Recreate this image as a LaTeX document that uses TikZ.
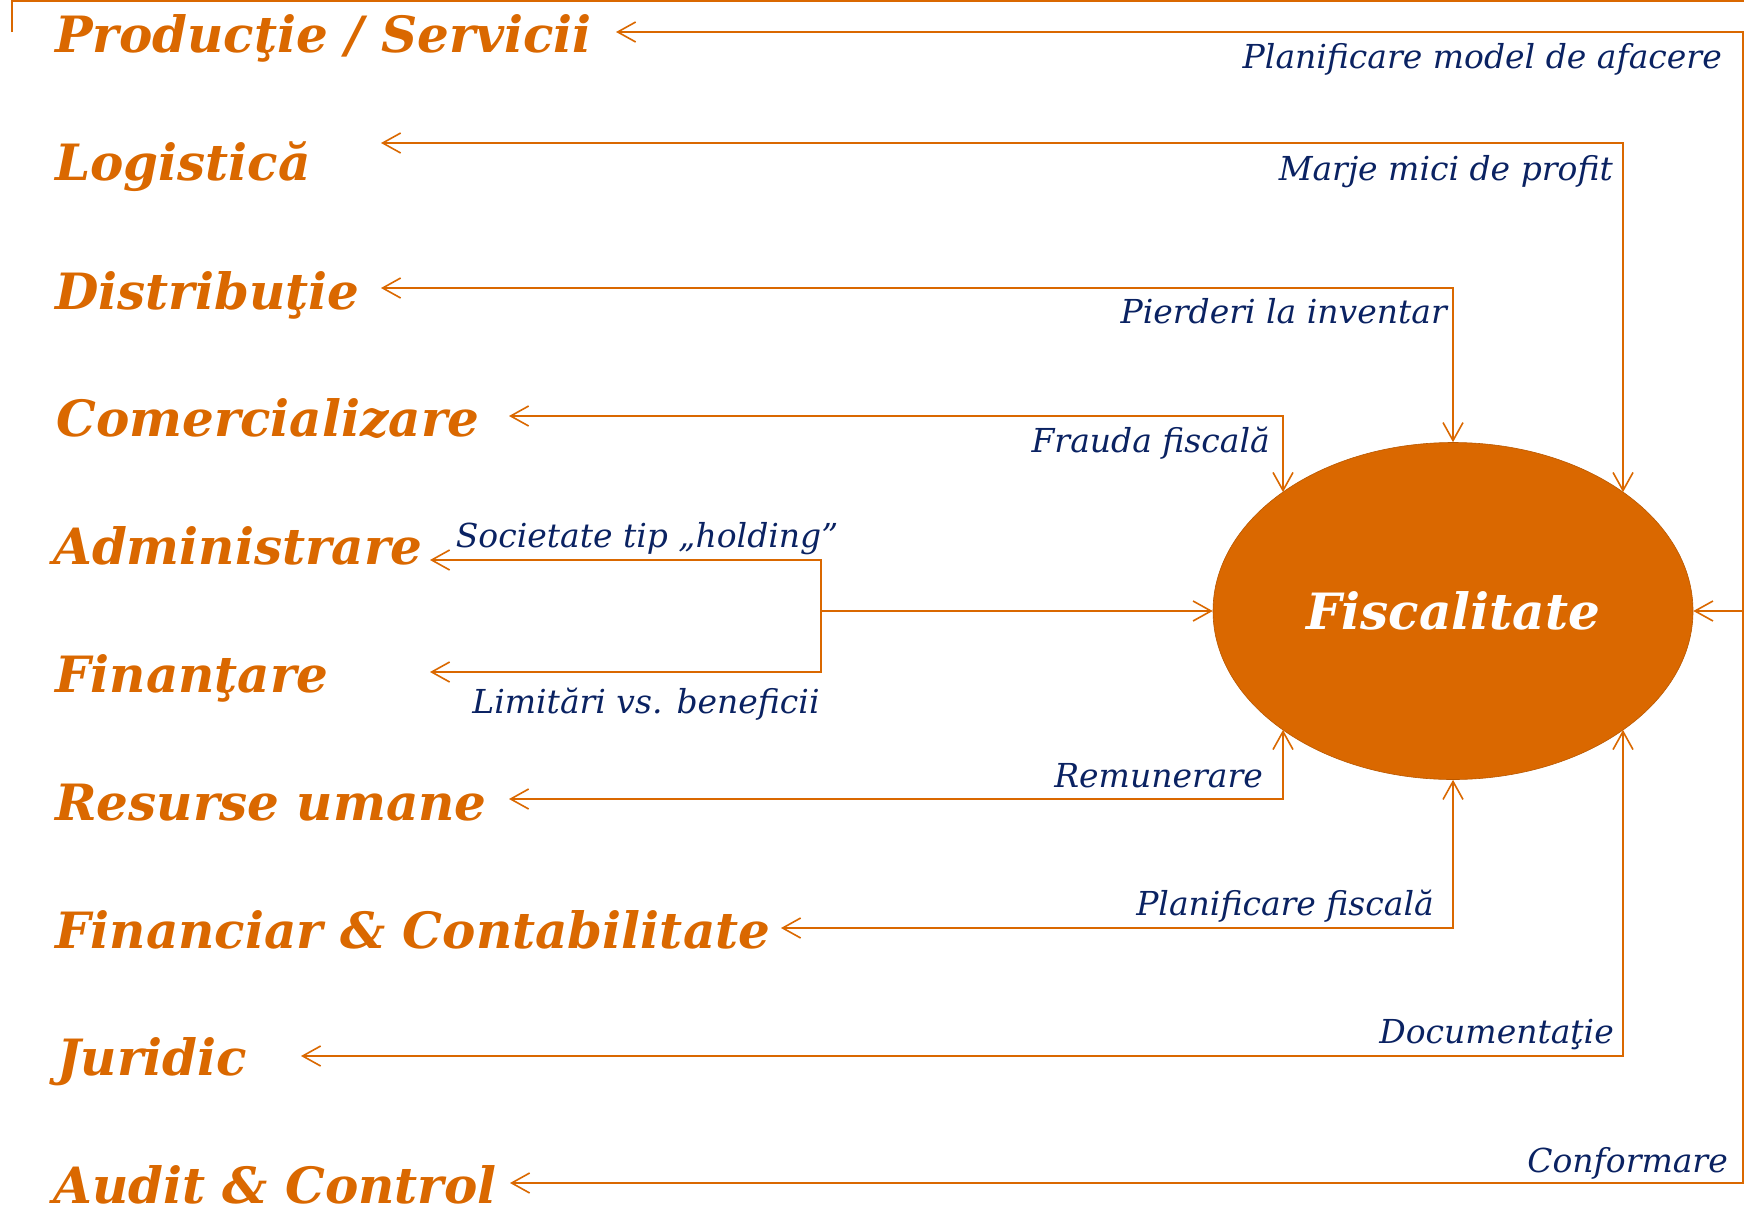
\documentclass[tikz,border=0pt]{standalone}
\usepackage{fontspec}
\setmainfont{DejaVu Serif}
\usetikzlibrary{arrows.meta,shapes.geometric}
\definecolor{orng}{RGB}{218,104,0}
\definecolor{navy}{RGB}{10,34,98}
\tikzset{barb/.tip={Straight Barb[length=18pt,width=20pt]}}
\begin{document}
\begin{tikzpicture}[x=1pt,y=-1pt,
  dept/.style={anchor=base west,inner sep=0,text=orng,font=\fontsize{50}{60}\selectfont\bfseries\itshape},
  lbl/.style={inner sep=0,text=navy,font=\fontsize{33}{40}\selectfont\itshape},
  conn/.style={draw=orng,line width=1.6pt},
  biarr/.style={conn,arrows=barb-barb},
  endarr/.style={conn,arrows=-barb}]
\useasboundingbox (0,0) rectangle (1744,1210);

% central ellipse
\node[ellipse,fill=orng,draw=orng!85!black,line width=0.6pt,minimum width=480pt,minimum height=337pt,inner sep=0,text=white,font=\fontsize{50}{60}\selectfont\bfseries\itshape] (F) at (1453,611) {Fiscalitate};

% departments
\node[dept] (prod) at (55,52) {Producţie / Servicii};
\node[dept] (log) at (55,180) {Logistică};
\node[dept] (dist) at (55,309) {Distribuţie};
\node[dept] (com) at (56,436) {Comercializare};
\node[dept] (adm) at (53,564) {Administrare};
\node[dept] (fin) at (55,692) {Finanţare};
\node[dept] (hr) at (55,820) {Resurse umane};
\node[dept] (fc) at (55,948) {Financiar \& Contabilitate};
\node[dept] (jur) at (57,1075) {Juridic};
\node[dept] (aud) at (53,1203) {Audit \& Control};

% arrow tips near departments
\coordinate (tprod) at (616,32);
\coordinate (tlog) at (381,143);
\coordinate (tdist) at (381,288);
\coordinate (tcom) at (509,416);
\coordinate (tadm) at (430,560);
\coordinate (tfin) at (430,672);
\coordinate (thr) at (509,799);
\coordinate (tfc) at (781,928);
\coordinate (tjur) at (301,1056);
\coordinate (taud) at (510,1183);

% points on the ellipse border
\coordinate (eNE) at (1623,492.1);
\coordinate (eNW) at (1283,492.1);
\coordinate (eSW) at (1283,729.9);
\coordinate (eSE) at (1623,729.9);
\coordinate (hub) at (821,611);
\coordinate (outer) at (1743,611);
\coordinate (stub) at (12,32);
\coordinate (topr) at (1745,1);

% connectors
\draw[conn] (stub) |- (topr);
\draw[biarr] (tprod) -| (outer) |- (taud);
\draw[endarr] (outer) -- (F.east);
\draw[biarr] (tlog) -| (eNE);
\draw[biarr] (tdist) -| (F.north);
\draw[biarr] (tcom) -| (eNW);
\draw[biarr] (tadm) -| (hub) |- (tfin);
\draw[endarr] (hub) -- (F.west);
\draw[biarr] (thr) -| (eSW);
\draw[biarr] (tfc) -| (F.south);
\draw[biarr] (tjur) -| (eSE);

% connector labels
\node[lbl,anchor=base east] (l1) at (1722,68) {Planificare model de afacere};
\node[lbl,anchor=base east] (l2) at (1613,180) {Marje mici de profit};
\node[lbl,anchor=base east] (l3) at (1447,323) {Pierderi la inventar};
\node[lbl,anchor=base east] (l4) at (1270,452) {Frauda fiscală};
\node[lbl,anchor=base] (l5) at (647,547) {Societate tip „holding”};
\node[lbl,anchor=base] (l6) at (646,713) {Limitări vs. beneficii};
\node[lbl,anchor=base east] (l7) at (1263,787) {Remunerare};
\node[lbl,anchor=base east] (l8) at (1434,915) {Planificare fiscală};
\node[lbl,anchor=base east] (l9) at (1614,1043) {Documentaţie};
\node[lbl,anchor=base east] (l10) at (1728,1172) {Conformare};
\end{tikzpicture}
\end{document}
